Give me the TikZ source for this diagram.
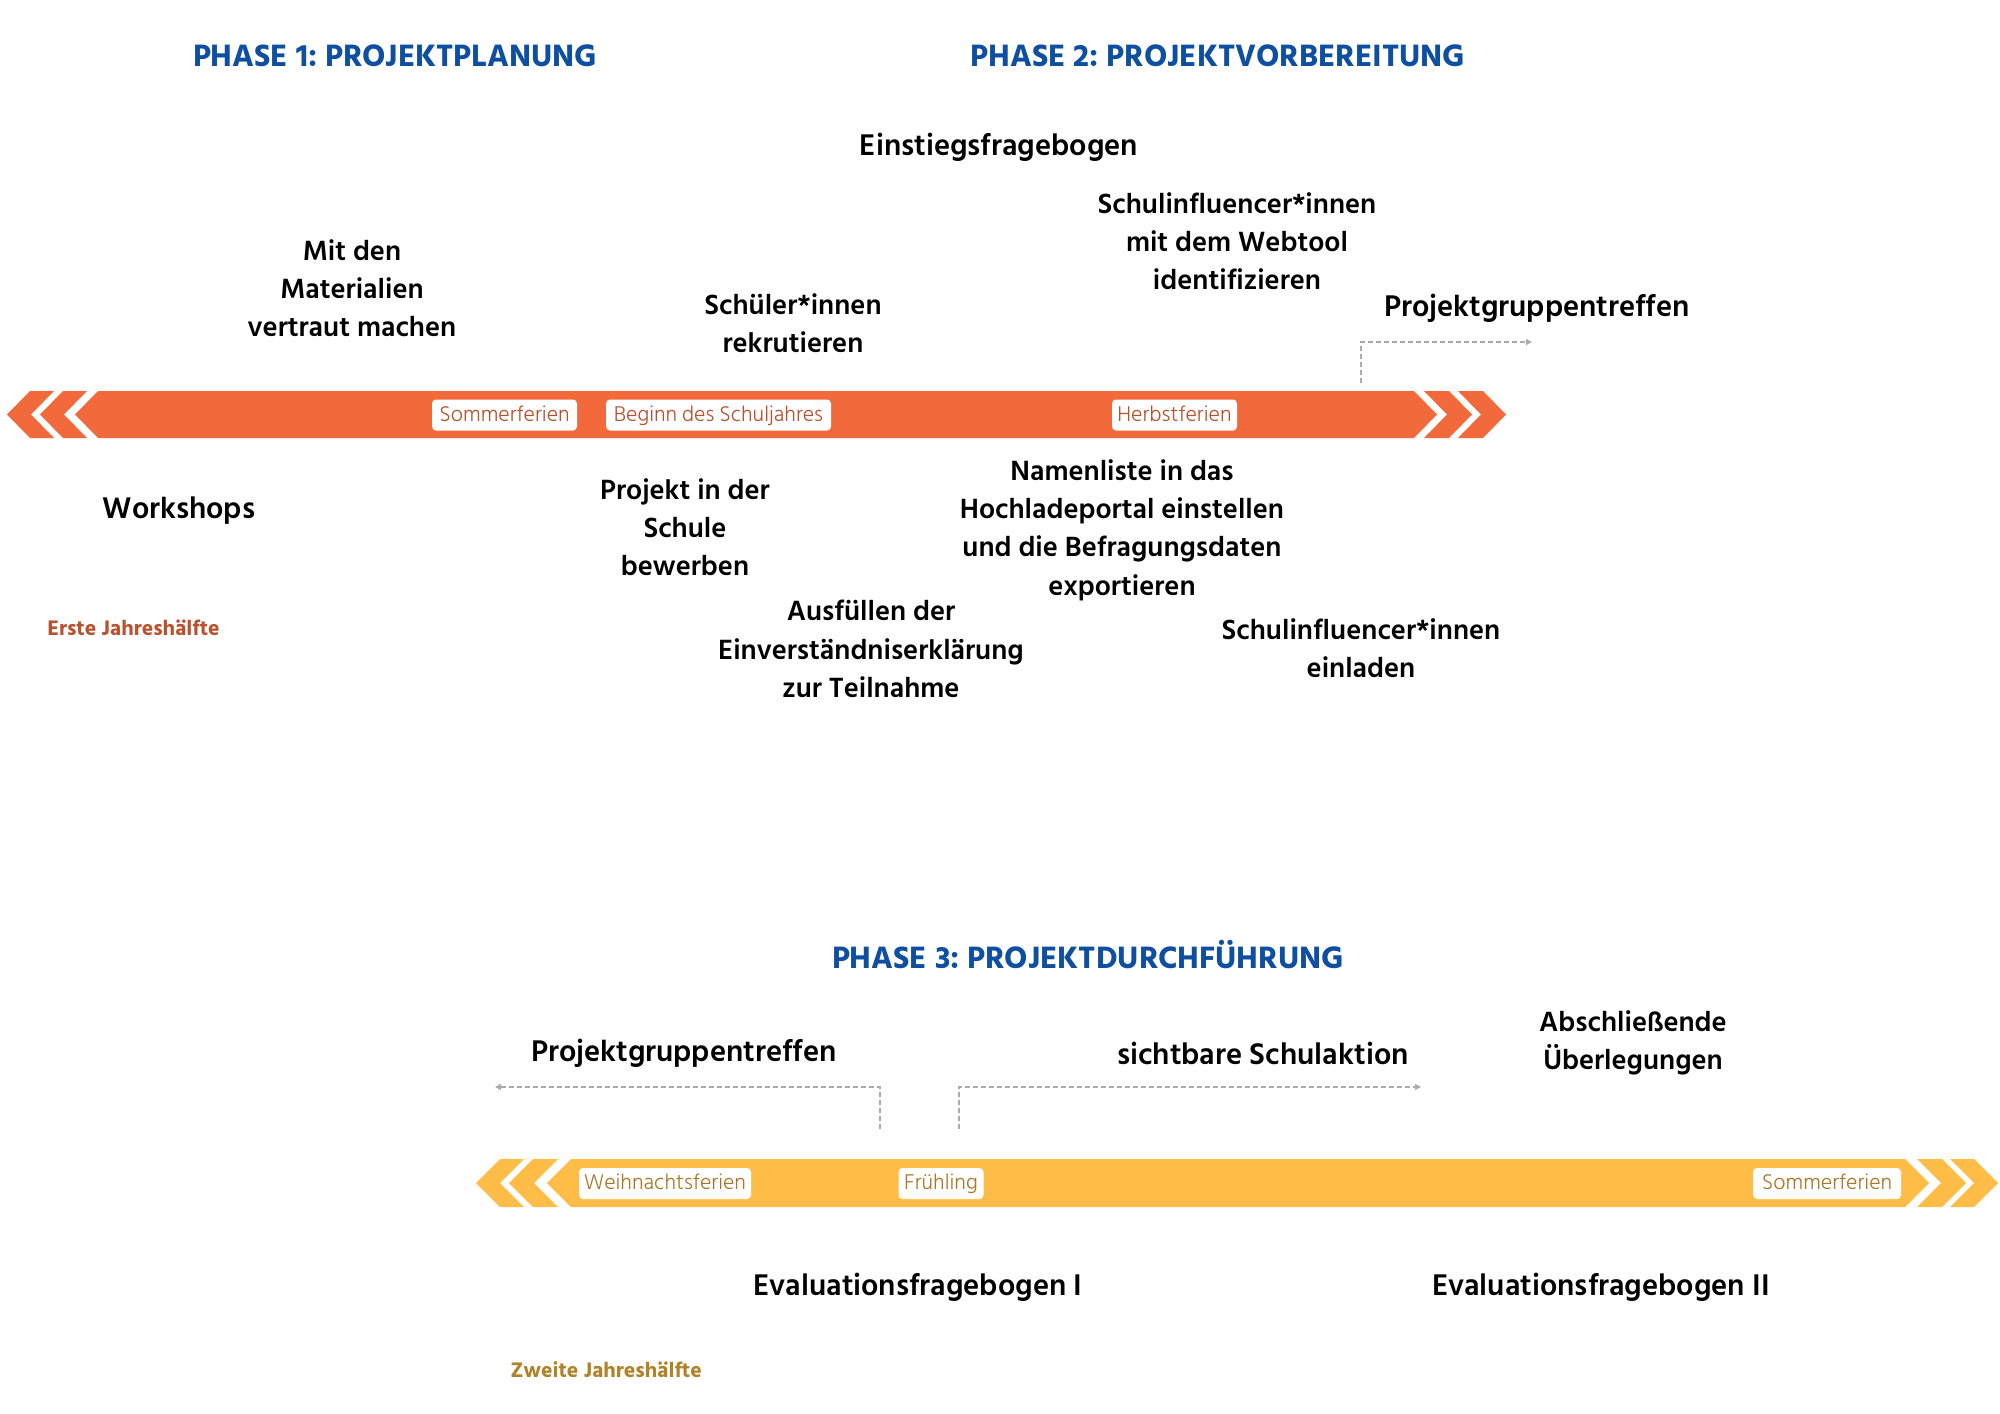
\documentclass[tikz,border=0pt]{standalone}
\usepackage{fontspec}
\setmainfont{Hind Siliguri}
\newfontfamily\semib{Hind Siliguri SemiBold}
\newfontfamily\lightf{Hind Siliguri Light}
\newfontfamily\boldf{Hind Siliguri Bold}
\usetikzlibrary{arrows.meta}
\definecolor{barorange}{HTML}{F26A3B}
\definecolor{baryellow}{HTML}{FFBD47}
\definecolor{orangetxt}{HTML}{B5532F}
\definecolor{yellowtxt}{HTML}{A8792A}
\definecolor{phaseblue}{HTML}{0E4FA1}
\definecolor{halfred}{HTML}{BA5230}
\definecolor{halfgold}{HTML}{B0822A}
\definecolor{conngray}{HTML}{AAAAAA}
\frenchspacing
\begin{document}
\begin{tikzpicture}[x=0.75pt,y=-0.75pt,
  task/.style={font=\semib\fontsize{21.4}{28.7}\selectfont, align=center, text=black, inner sep=0pt},
  bigtask/.style={task, font=\semib\fontsize{23}{28.7}\selectfont},
  phase/.style={font=\boldf\fontsize{23.8}{28}\selectfont, text=phaseblue, inner sep=0pt},
  tag/.style={fill=white, rounded corners=3pt, font=\lightf\fontsize{16.4}{18}\selectfont, minimum height=23.25pt, inner sep=0pt, text height=11.5pt, text depth=2pt},
  otag/.style={tag, text=orangetxt},
  ytag/.style={tag, text=yellowtxt},
  half/.style={font=\boldf\fontsize{16.2}{18}\selectfont, inner sep=0pt, anchor=west},
  conn/.style={draw=conngray, line width=1.1pt, dash pattern=on 3.5pt off 2.5pt, -{Triangle[length=4.5pt,width=4.5pt]}},
  obar/.style={fill=barorange, draw=none},
  ybar/.style={fill=baryellow, draw=none}
]
\useasboundingbox (0,0) rectangle (2000,1414);

% ---------- bar 1 (orange) ----------
\fill[obar] (30,391) -- (54,391) -- (31,414.5) -- (54,438) -- (30,438) -- (7,414.5) -- cycle;
\fill[obar] (63,391) -- (87,391) -- (64,414.5) -- (87,438) -- (63,438) -- (40,414.5) -- cycle;
\fill[obar] (98,391) -- (1414,391) -- (1437,414.5) -- (1414,438) -- (98,438) -- (75,414.5) -- cycle;
\fill[obar] (1424,391) -- (1449,391) -- (1472,414.5) -- (1449,438) -- (1424,438) -- (1447,414.5) -- cycle;
\fill[obar] (1458,391) -- (1483,391) -- (1506,414.5) -- (1483,438) -- (1458,438) -- (1481,414.5) -- cycle;

\node[otag, minimum width=108.75pt] (t1) at (504.5,415) {Sommerferien};
\node[otag, minimum width=168.75pt] (t2) at (718.5,415) {Beginn des Schuljahres};
\node[otag, minimum width=93.75pt] (t3) at (1174.5,415) {Herbstferien};

% ---------- bar 2 (yellow) ----------
\fill[ybar] (500,1159) -- (524,1159) -- (500,1183) -- (524,1207) -- (500,1207) -- (476,1183) -- cycle;
\fill[ybar] (533,1159) -- (558,1159) -- (534,1183) -- (558,1207) -- (533,1207) -- (509,1183) -- cycle;
\fill[ybar] (571,1159) -- (1905,1159) -- (1929,1183) -- (1905,1207) -- (571,1207) -- (547,1183) -- cycle;
\fill[ybar] (1917,1159) -- (1942,1159) -- (1966,1183) -- (1942,1207) -- (1917,1207) -- (1941,1183) -- cycle;
\fill[ybar] (1950,1159) -- (1974,1159) -- (1998,1183) -- (1974,1207) -- (1950,1207) -- (1974,1183) -- cycle;

\node[ytag, minimum width=129pt] (t4) at (665,1183.5) {Weihnachtsferien};
\node[ytag, minimum width=63.75pt] (t5) at (941,1183.5) {Frühling};
\node[ytag, minimum width=111pt] (t6) at (1827,1183.5) {Sommerferien};

% ---------- phase titles ----------
\node[phase] (p1) at (395,56) {PHASE 1: PROJEKTPLANUNG};
\node[phase] (p2) at (1218,56) {PHASE 2: PROJEKTVORBEREITUNG};
\node[phase] (p3) at (1088,955) {PHASE 3: PROJEKTDURCHFÜHRUNG};

% ---------- tasks phase 1/2 ----------
\node[bigtask] (a1) at (999,147) {Einstiegsfragebogen};
\node[task] (a2) at (1237,241) {Schulinfluencer*innen\\mit dem Webtool\\identifizieren};
\node[task] (a3) at (352,288) {Mit den\\Materialien\\vertraut machen};
\node[task] (a4) at (793,323) {Schüler*innen\\rekrutieren};
\node[bigtask] (a5) at (1537,308) {Projektgruppentreffen};
\node[bigtask] (a6) at (179,511) {Workshops};
\node[task] (a7) at (685,527) {Projekt in der\\Schule\\bewerben};
\node[task] (a8) at (1122,530) {Namenliste in das\\Hochladeportal einstellen\\und die Befragungsdaten\\exportieren};
\node[task] (a9) at (871,649) {Ausfüllen der\\Einverständniserklärung\\zur Teilnahme};
\node[task] (a10) at (1361,648) {Schulinfluencer*innen\\einladen};
\node[half, text=halfred] (h1) at (47,628) {Erste Jahreshälfte};

% ---------- tasks phase 3 ----------
\node[bigtask] (b1) at (684,1053) {Projektgruppentreffen};
\node[bigtask] (b2) at (1263,1053) {sichtbare Schulaktion};
\node[task] (b3) at (1633,1043) {Abschließende\\Überlegungen};
\node[bigtask] (b4) at (918,1287) {Evaluationsfragebogen I};
\node[bigtask] (b5) at (1601,1287) {Evaluationsfragebogen II};
\node[half, text=halfgold] (h2) at (510,1370) {Zweite Jahreshälfte};

% ---------- connectors ----------
\coordinate (c1s) at (1361,383);
\coordinate (c1e) at (1532,342);
\draw[conn] (c1s) |- (c1e);
\coordinate (c2s) at (880,1129);
\coordinate (c2e) at (495,1087);
\draw[conn] (c2s) |- (c2e);
\coordinate (c3s) at (959,1129);
\coordinate (c3e) at (1421,1087);
\draw[conn] (c3s) |- (c3e);
\end{tikzpicture}
\end{document}
